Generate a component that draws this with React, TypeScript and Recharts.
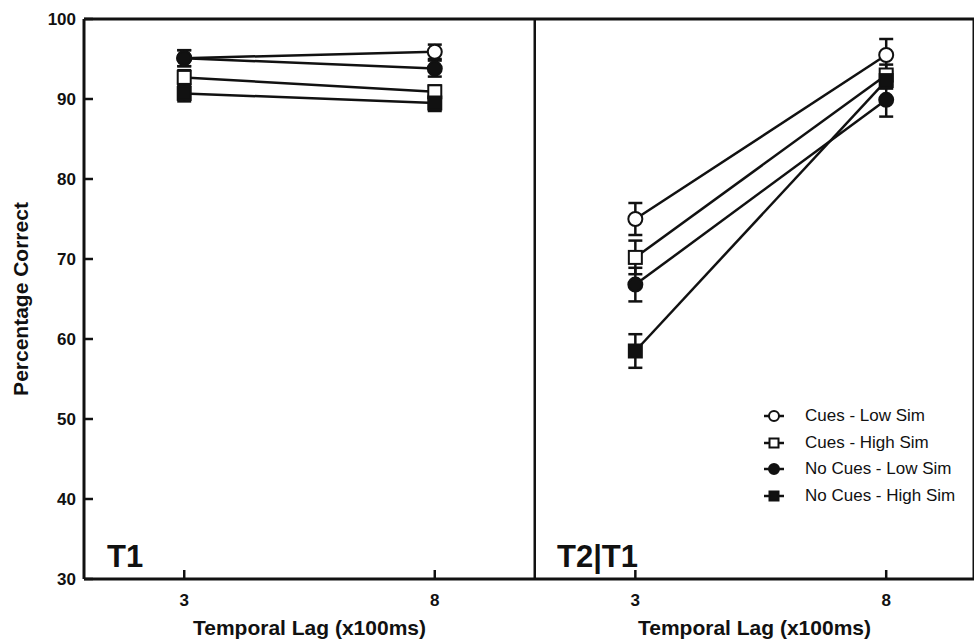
import { LineChart, Line, XAxis, YAxis, ErrorBar, ReferenceLine } from 'recharts'

const lags = [3, 8]
const yTicks = [30, 40, 50, 60, 70, 80, 90, 100]
const seriesNames = ['Cues - Low Sim', 'Cues - High Sim', 'No Cues - Low Sim', 'No Cues - High Sim']
const shapes = ['openCircle', 'openSquare', 'filledCircle', 'filledSquare']

// T1 panel (lag 3, lag 8)
const t1CuesLow = [95.1, 95.9]
const t1CuesHigh = [92.7, 90.9]
const t1NoCuesLow = [95.1, 93.8]
const t1NoCuesHigh = [90.7, 89.5]
const t1CuesLowErr = [1.0, 0.9]
const t1CuesHighErr = [0.9, 0.8]
const t1NoCuesLowErr = [1.0, 1.0]
const t1NoCuesHighErr = [1.0, 1.0]

// T2|T1 panel
const t2CuesLow = [75.0, 95.5]
const t2CuesHigh = [70.2, 93.0]
const t2NoCuesLow = [66.8, 89.9]
const t2NoCuesHigh = [58.5, 92.3]
const t2CuesLowErr = [2.0, 2.0]
const t2CuesHighErr = [2.1, 1.3]
const t2NoCuesLowErr = [2.1, 2.1]
const t2NoCuesHighErr = [2.1, 1.0]

const INK = '#111'
const FONT = '"Liberation Sans", Arial, Helvetica, sans-serif'

function buildRows(vals: number[][], errs: number[][]) {
  return lags.map((lag, i) => {
    const row: Record<string, number> = { lag }
    vals.forEach((v, k) => {
      row[`s${k}`] = v[i]
      row[`e${k}`] = errs[k][i]
    })
    return row
  })
}

const t1Rows = buildRows(
  [t1CuesLow, t1CuesHigh, t1NoCuesLow, t1NoCuesHigh],
  [t1CuesLowErr, t1CuesHighErr, t1NoCuesLowErr, t1NoCuesHighErr],
)
const t2Rows = buildRows(
  [t2CuesLow, t2CuesHigh, t2NoCuesLow, t2NoCuesHigh],
  [t2CuesLowErr, t2CuesHighErr, t2NoCuesLowErr, t2NoCuesHighErr],
)

function Marker({ shape, cx, cy, r = 7 }: { shape: string; cx: number; cy: number; r?: number }) {
  const filled = shape.startsWith('filled')
  const fill = filled ? INK : '#fff'
  if (shape.endsWith('Circle')) {
    return <circle cx={cx} cy={cy} r={r} fill={fill} stroke={INK} strokeWidth={2} />
  }
  return <rect x={cx - r + 0.5} y={cy - r + 0.5} width={r * 2 - 1} height={r * 2 - 1} fill={fill} stroke={INK} strokeWidth={2} />
}

function makeDot(shape: string) {
  return (props: any) => {
    const { cx, cy, index } = props
    if (cx == null || cy == null) return <g key={`d-${index}`} />
    return (
      <g key={`d-${shape}-${index}`}>
        <Marker shape={shape} cx={cx} cy={cy} />
      </g>
    )
  }
}

const XTick = (p: any) => (
  <g>
    <line x1={p.x} x2={p.x} y1={p.y} y2={p.y - 9} stroke={INK} strokeWidth={2.5} />
    <text x={p.x} y={p.y + 27} textAnchor="middle" fontSize={17} fontWeight="bold" fill={INK} fontFamily={FONT}>
      {p.payload.value}
    </text>
  </g>
)

const YTick = (p: any) => (
  <g>
    <line x1={p.x + 8} x2={p.x + 17} y1={p.y} y2={p.y} stroke={INK} strokeWidth={2.5} />
    <text x={p.x} y={p.y} dy={6} textAnchor="end" fontSize={17} fontWeight="bold" fill={INK} fontFamily={FONT}>
      {p.payload.value}
    </text>
  </g>
)

function Panel({ data, width, left, xMax, showY, title }: any) {
  return (
    <div style={{ position: 'absolute', left, top: 0 }}>
      <LineChart width={width} height={642} data={data} margin={{ top: 19, right: showY ? 1 : 0, bottom: 0, left: 0 }}>
        <XAxis
          dataKey="lag"
          type="number"
          domain={[1, xMax]}
          ticks={lags}
          height={63}
          axisLine={{ stroke: INK, strokeWidth: 3 }}
          tickLine={false}
          tickSize={0}
          tickMargin={0}
          tick={XTick}
          allowDataOverflow
          label={{
            value: 'Temporal Lag (x100ms)',
            position: 'insideBottom',
            offset: 7,
            fontSize: 21,
            fontWeight: 'bold',
            fill: INK,
            fontFamily: FONT,
          }}
        />
        <YAxis
          hide={!showY}
          domain={[30, 100]}
          ticks={yTicks}
          width={showY ? 84 : 0}
          axisLine={{ stroke: INK, strokeWidth: 3 }}
          tickLine={false}
          tickSize={0}
          tickMargin={8}
          tick={YTick}
          allowDataOverflow
          label={{
            content: (lp: any) => {
              const vb = lp.viewBox
              const cx = 20
              const cy = vb.y + vb.height / 2
              return (
                <text
                  x={cx}
                  y={cy}
                  transform={`rotate(-90 ${cx} ${cy})`}
                  textAnchor="middle"
                  dominantBaseline="central"
                  fontSize={21}
                  fontWeight="bold"
                  fill={INK}
                  fontFamily={FONT}
                >
                  Percentage Correct
                </text>
              )
            },
          }}
        />
        <ReferenceLine y={100} stroke={INK} strokeWidth={3} />
        <ReferenceLine x={xMax} stroke={INK} strokeWidth={3} />
        {shapes.map((shape, k) => (
          <Line
            key={shape}
            dataKey={`s${k}`}
            name={seriesNames[k]}
            stroke={INK}
            strokeWidth={2.5}
            dot={makeDot(shape)}
            activeDot={false}
            isAnimationActive={false}
          >
            <ErrorBar dataKey={`e${k}`} direction="y" width={7} stroke={INK} strokeWidth={2.5} isAnimationActive={false} />
          </Line>
        ))}
      </LineChart>
      <div
        style={{
          position: 'absolute',
          left: showY ? 107 : 22,
          top: 539,
          fontSize: 31,
          fontWeight: 'bold',
          fontFamily: FONT,
          color: INK,
        }}
      >
        {title}
      </div>
    </div>
  )
}

function LegendBox() {
  return (
    <div style={{ position: 'absolute', left: 762, top: 403, fontFamily: FONT, fontSize: 17, color: INK }}>
      {seriesNames.map((name, k) => (
        <div key={name} style={{ display: 'flex', alignItems: 'center', height: 26.5 }}>
          <svg width={24} height={16} style={{ marginRight: 19 }}>
            <line x1={2} x2={22} y1={8} y2={8} stroke={INK} strokeWidth={2.5} />
            <Marker shape={shapes[k]} cx={12} cy={8} r={5} />
          </svg>
          <span>{name}</span>
        </div>
      ))}
    </div>
  )
}

export default function App() {
  return (
    <div style={{ position: 'absolute', left: 0, top: 0, width: 974, height: 642, background: '#fff' }}>
      <Panel data={t1Rows} width={536} left={0} xMax={10} showY title="T1" />
      <Panel data={t2Rows} width={439} left={535} xMax={9.75} showY={false} title="T2|T1" />
      <LegendBox />
    </div>
  )
}
